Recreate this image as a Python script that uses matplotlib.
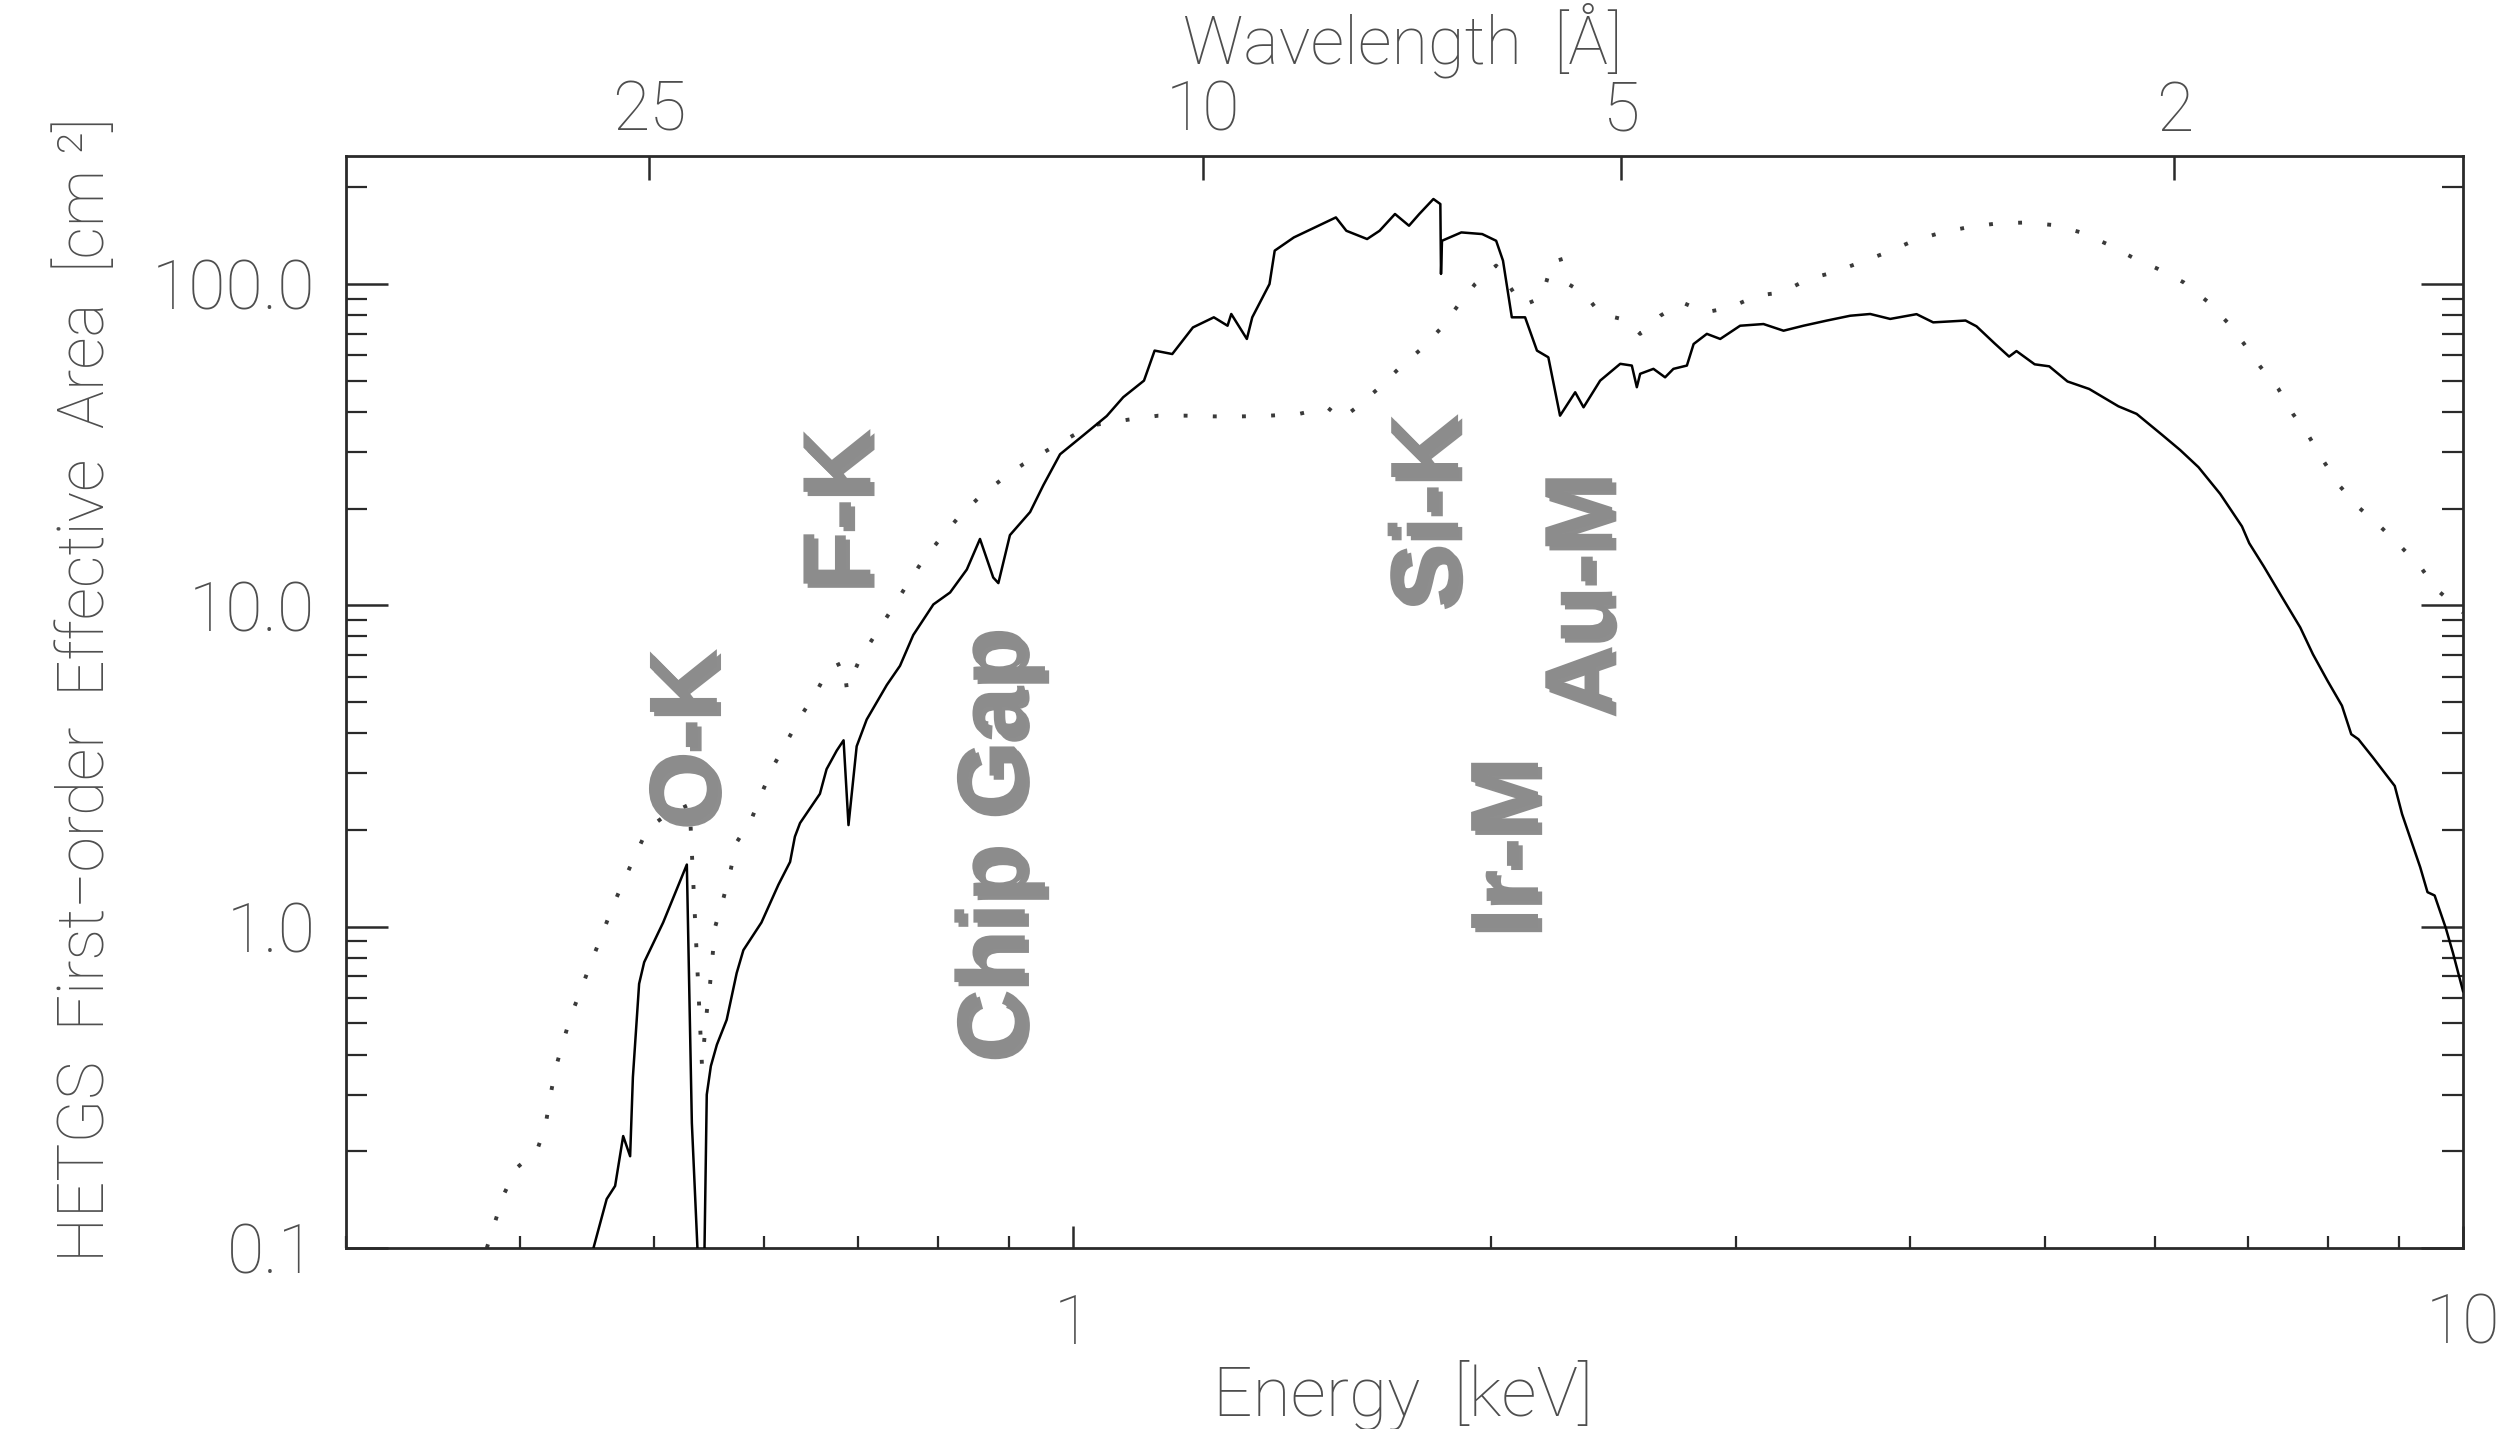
import matplotlib
matplotlib.use("Agg")
import matplotlib.pyplot as plt
from matplotlib.ticker import LogLocator, NullFormatter, NullLocator, FixedLocator
from matplotlib import patheffects as pe

# ---------------- data ----------------
# Solid curve: HETGS first-order effective area
energy_solid = [0.452, 0.462, 0.4685, 0.4748, 0.4803, 0.4825, 0.4875, 0.4916, 0.5073, 0.5276,
                0.532, 0.5408, 0.542, 0.5453, 0.549, 0.5545, 0.5636, 0.573, 0.5794, 0.597,
                0.614, 0.626, 0.631, 0.6364, 0.6577, 0.665, 0.6763, 0.684, 0.6896, 0.699,
                0.7107, 0.7348, 0.751, 0.7677, 0.7937, 0.816, 0.8389, 0.8574, 0.8764, 0.8839,
                0.901, 0.9316, 0.9523, 0.979, 1.0175, 1.0577, 1.087, 1.125, 1.145, 1.179,
                1.22, 1.263, 1.292, 1.300, 1.334, 1.346, 1.385, 1.397, 1.442, 1.493,
                1.546, 1.573, 1.628, 1.662, 1.705, 1.745, 1.775, 1.817, 1.838, 1.840,
                1.843, 1.903, 1.970, 2.016, 2.039, 2.069, 2.115, 2.157, 2.198, 2.241,
                2.298, 2.330, 2.395, 2.476, 2.524, 2.545, 2.559, 2.616, 2.667, 2.704,
                2.765, 2.796, 2.858, 2.922, 3.020, 3.139, 3.245, 3.354, 3.487, 3.624,
                3.746, 3.872, 4.045, 4.158, 4.387, 4.467, 4.603, 4.715, 4.773, 4.919,
                5.039, 5.194, 5.384, 5.651, 5.824, 6.075, 6.260, 6.452, 6.689, 6.934,
                7.018, 7.190, 7.410, 7.637, 7.799, 7.990, 8.183, 8.310, 8.409, 8.614,
                8.931, 9.04, 9.316, 9.429, 9.541, 9.719, 9.834, 10.0]
area_solid = [0.10, 0.142, 0.156, 0.223, 0.193, 0.34, 0.664, 0.775, 1.03, 1.56,
              0.245, 0.05, 0.05, 0.30, 0.368, 0.429, 0.513, 0.717, 0.845, 1.03,
              1.35, 1.59, 1.905, 2.10, 2.59, 3.09, 3.53, 3.80, 2.07, 3.64,
              4.41, 5.65, 6.48, 8.08, 10.06, 10.96, 12.92, 16.08, 12.2, 11.72,
              16.53, 19.5, 23.64, 29.5, 33.8, 38.8, 44.4, 50.0, 62.0, 60.5,
              73.2, 78.7, 74.1, 80.6, 67.4, 78.7, 99.9, 126.9, 139.5, 149.9,
              161.0, 146.3, 137.9, 146.3, 165.0, 151.7, 165.0, 183.7, 177.2, 107.4,
              136.2, 144.6, 142.9, 136.2, 118.1, 78.7, 78.7, 62.0, 59.1, 38.9,
              46.0, 41.3, 50.0, 56.4, 55.7, 47.7, 52.5, 54.4, 51.2, 54.4,
              55.7, 65.0, 69.9, 67.4, 74.1, 75.0, 71.5, 74.1, 76.9, 79.6,
              80.6, 77.8, 80.5, 75.9, 76.9, 73.8, 65.3, 59.4, 61.8, 56.2,
              55.4, 49.7, 47.1, 41.6, 39.4, 33.9, 30.4, 26.9, 22.2, 17.6,
              15.6, 13.2, 10.6, 8.53, 7.04, 5.82, 4.87, 3.97, 3.83, 3.36,
              2.74, 2.24, 1.53, 1.28, 1.25, 0.99, 0.83, 0.63]

# Dotted curve
energy_dotted = [0.3788, 0.384, 0.3894, 0.3977, 0.4116, 0.4173, 0.4208, 0.4243, 0.4296, 0.4354,
                 0.4434, 0.4508, 0.4583, 0.466, 0.475, 0.4842, 0.4942, 0.508, 0.530, 0.541,
                 0.5453, 0.5483, 0.5508, 0.553, 0.5607, 0.5675, 0.573, 0.5875, 0.597, 0.6087,
                 0.6225, 0.638, 0.6525, 0.6669, 0.684, 0.6877, 0.7031, 0.7207, 0.7388, 0.7595,
                 0.7786, 0.8025, 0.8272, 0.8574, 0.889, 0.9213, 0.9629, 1.029, 1.096, 1.152,
                 1.206, 1.263, 1.323, 1.385, 1.455, 1.524, 1.560, 1.600, 1.657, 1.715,
                 1.775, 1.838, 1.892, 1.947, 2.016, 2.105, 2.175, 2.204, 2.241, 2.272,
                 2.336, 2.395, 2.510, 2.559, 2.646, 2.743, 2.850, 2.971, 3.105, 3.236,
                 3.382, 3.525, 3.685, 3.851, 4.025, 4.218, 4.413, 4.632, 4.846, 5.085,
                 5.320, 5.549, 5.788, 6.037, 6.296, 6.548, 6.769, 6.954, 7.145, 7.366,
                 7.545, 7.752, 7.941, 8.160, 8.409, 8.717, 9.011, 9.316, 9.572, 10.0]
area_dotted = [0.10, 0.1205, 0.146, 0.177, 0.201, 0.238, 0.296, 0.359, 0.435, 0.527,
               0.648, 0.786, 0.94, 1.14, 1.38, 1.66, 2.01, 2.2, 2.4, 0.37,
               0.542, 0.664, 0.827, 1.0, 1.23, 1.51, 1.83, 2.17, 2.59, 3.15,
               3.76, 4.56, 5.28, 6.32, 6.66, 5.49, 6.85, 8.08, 9.53, 11.56,
               13.63, 16.08, 18.75, 21.8, 24.65, 27.5, 30.7, 36.2, 37.8, 38.9,
               38.9, 38.7, 38.7, 38.9, 39.4, 41.3, 38.0, 41.3, 47.1, 54.4,
               62.0, 72.4, 85.5, 99.9, 114.0, 85.5, 90.8, 111.2, 120.9, 99.9,
               93.0, 80.6, 76.9, 69.9, 79.6, 87.6, 81.5, 84.5, 91.9, 94.1,
               103.6, 108.6, 116.7, 125.3, 136.2, 144.6, 150.3, 154.4, 155.2, 152.3,
               144.3, 132.9, 120.7, 111.2, 101.1, 88.2, 75.9, 65.3, 55.4, 47.1,
               39.4, 33.4, 28.0, 23.4, 20.2, 17.6, 15.3, 13.2, 11.2, 9.5]

# Tick labels
energy_ticks = [1, 10]
energy_tick_labels = ["1", "10"]
area_ticks = [0.1, 1.0, 10.0, 100.0]
area_tick_labels = ["0.1", "1.0", "10.0", "100.0"]
wavelength_ticks = [25, 10, 5, 2]          # Angstrom
hc_kev_angstrom = 12.398                   # E[keV] = 12.398 / lambda[A]

# Edge annotations: label, energy, area (center positions)
edge_labels = ["O-K", "F-K", "Chip Gap", "Si-K", "Ir-M", "Au-M"]
edge_energy = [0.532, 0.686, 0.886, 1.816, 2.073, 2.344]
edge_area = [3.88, 19.9, 1.82, 19.7, 1.79, 10.9]

# ---------------- figure ----------------
W, H = 2500, 1429
fig = plt.figure(figsize=(W / 100, H / 100), dpi=100)
fig.patch.set_facecolor("white")
ax = fig.add_axes([346 / W, 1 - 1248 / H, (2463 - 346) / W, (1248 - 156) / H])
ax.set_xscale("log")
ax.set_yscale("log")
ax.set_xlim(0.3, 10)
ax.set_ylim(0.1, 250)

ax.plot(energy_solid, area_solid, color="black", lw=1.8, zorder=3)
ax.plot(energy_dotted, area_dotted, color="#3a3a3a", lw=2.8,
        linestyle=(0, (1, 6.5)), dash_capstyle="butt", zorder=2)

tick_font = dict(family=["Roboto", "DejaVu Sans"], weight="light")
label_color = "#4e4e4e"
spine_color = "#2a2a2a"

for s in ax.spines.values():
    s.set_linewidth(2.0)
    s.set_color(spine_color)

ax.xaxis.set_major_locator(FixedLocator(energy_ticks))
ax.set_xticklabels(energy_tick_labels, **tick_font)
ax.xaxis.set_minor_locator(LogLocator(base=10, subs=[2, 3, 4, 5, 6, 7, 8, 9]))
ax.xaxis.set_minor_formatter(NullFormatter())
ax.yaxis.set_major_locator(FixedLocator(area_ticks))
ax.set_yticklabels(area_tick_labels, **tick_font)
ax.yaxis.set_minor_locator(LogLocator(base=10, subs=[2, 3, 4, 5, 6, 7, 8, 9]))
ax.yaxis.set_minor_formatter(NullFormatter())

ax.tick_params(axis="x", which="major", direction="in", length=16, width=1.8,
               bottom=True, top=False, pad=32, labelsize=49, labelcolor=label_color,
               color=spine_color)
ax.tick_params(axis="x", which="minor", direction="in", length=9, width=1.6,
               bottom=True, top=False, color=spine_color)
ax.tick_params(axis="y", which="major", direction="in", length=30, width=1.8,
               left=True, right=True, pad=22, labelsize=49, labelcolor=label_color,
               color=spine_color)
ax.tick_params(axis="y", which="minor", direction="in", length=15, width=1.6,
               left=True, right=True, color=spine_color)

# top wavelength axis
ax2 = ax.twiny()
ax2.set_xscale("log")
ax2.set_xlim(ax.get_xlim())
ax2.xaxis.set_major_locator(FixedLocator([hc_kev_angstrom / w for w in wavelength_ticks]))
ax2.set_xticklabels([str(w) for w in wavelength_ticks], **tick_font)
ax2.xaxis.set_minor_locator(NullLocator())
ax2.tick_params(axis="x", which="major", direction="in", length=17, width=1.8,
                top=True, bottom=False, pad=8, labelsize=49, labelcolor=label_color,
                color=spine_color)
for s in ax2.spines.values():
    s.set_visible(False)

# axis titles
lab_font = dict(family=["Roboto", "DejaVu Sans"], weight="light", color=label_color)
fig.text(1403 / W, 1 - 1395 / H, "Energy  [keV]", ha="center", va="center",
         fontsize=50, **lab_font)
fig.text(1403 / W, 1 - 64 / H, "Wavelength  [Å]", ha="center", va="baseline",
         fontsize=48, **lab_font)
fig.text(86 / W, 1 - 690 / H, "HETGS  First\u2212order  Effective  Area  [cm \u00b2]",
         ha="center", va="center", rotation=90, fontsize=46, **lab_font)

# edge annotations
shadow = [pe.withSimplePatchShadow(offset=(3, -3), shadow_rgbFace="#303030", alpha=0.55)]
for lab, e, a in zip(edge_labels, edge_energy, edge_area):
    ax.text(e, a, lab, rotation=90, ha="center", va="center", fontsize=70,
            fontweight="bold", family=["Liberation Sans", "DejaVu Sans"],
            color="#8c8c8c", path_effects=shadow, zorder=5)

fig.savefig("out.png", dpi=100, facecolor="white")
